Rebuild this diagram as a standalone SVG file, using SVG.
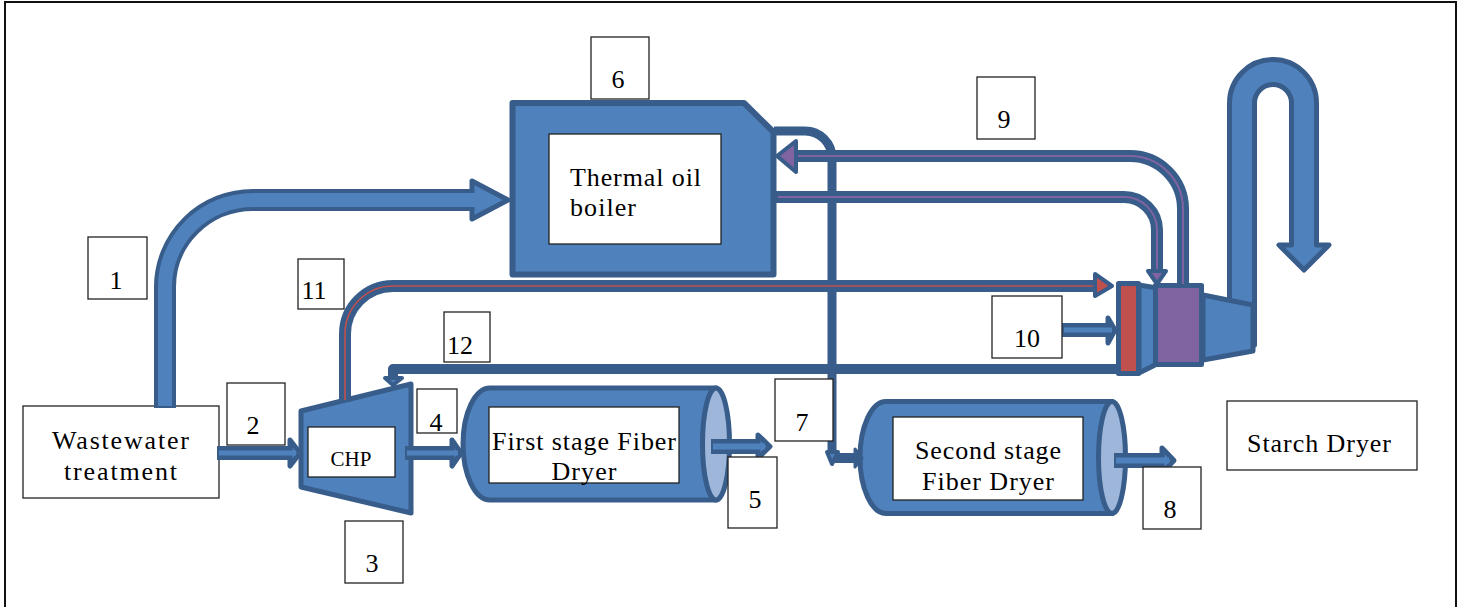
<svg xmlns="http://www.w3.org/2000/svg" width="1466" height="607" viewBox="0 0 1466 607">
<style>
text{font-family:"Liberation Serif","Times New Roman",serif;font-size:26px;fill:#000;text-anchor:middle}
.eq{fill:#4F81BD;stroke:#385D8A;stroke-width:5;stroke-linejoin:round}
.box{fill:#fff;stroke:#222;stroke-width:1.3}
.p{fill:none;stroke:#385D8A;stroke-linecap:butt;stroke-linejoin:round}
.in{fill:none;stroke:#4F81BD}
.pur{fill:none;stroke:#8064A2;stroke-width:2}
.red{fill:none;stroke:#C0504D;stroke-width:1.600}
.hb{fill:#4F81BD;stroke:#385D8A;stroke-width:5;stroke-linejoin:round}
.hp{fill:#8064A2;stroke:#385D8A;stroke-width:4;stroke-linejoin:round}
.hr{fill:#C0504D;stroke:#385D8A;stroke-width:4;stroke-linejoin:round}
.end{fill:#9DB6DA;stroke:#385D8A;stroke-width:5}
</style>
<rect x="5" y="2" width="1451" height="620" fill="#fff" stroke="#111" stroke-width="2"/>
<g id="stack"><path class="eq" d="M1229.500,305V103A43.500,43.500 0 0 1 1316.500,103V245H1329L1304,270L1279,245H1291.500V103A18.500,18.500 0 0 0 1254.500,103V345Z"/></g>
<g id="boiler"><polygon class="eq" style="stroke-width:6" points="512.500,103 744,103 773.500,132 773.500,274.500 512.500,274.500"/><rect class="box" x="549" y="134" width="172" height="110"/><text x="635.500" y="186" textLength="131">Thermal oil</text><text x="603" y="216" textLength="66">boiler</text></g>
<g id="wastewater"><rect class="box" x="23" y="406" width="196" height="92"/><text x="120.500" y="449" textLength="137">Wastewater</text><text x="120.500" y="480" textLength="113">treatment</text></g>
<g id="chp"><polygon class="eq" points="301,411 411,384 411,513 301,487"/><rect class="box" x="308" y="427" width="87" height="50"/><text x="351" y="466" style="font-size:21px">CHP</text></g>
<g id="dryer1"><path class="eq" d="M716,388H490A27,56 0 0 0 490,500H716Z"/><ellipse class="end" cx="716" cy="444" rx="13.500" ry="56"/><rect class="box" x="489" y="407" width="190" height="76"/><text x="584" y="450" textLength="184">First stage Fiber</text><text x="584" y="480" textLength="65">Dryer</text></g>
<g id="dryer2"><path class="eq" d="M1112,401.500H886A26,56 0 0 0 886,513.500H1112Z"/><ellipse class="end" cx="1112" cy="457.500" rx="13.500" ry="56"/><rect class="box" x="893" y="417" width="190" height="83"/><text x="988" y="459" textLength="146">Second stage</text><text x="988" y="490" textLength="132">Fiber Dryer</text></g>
<g id="starch"><rect class="box" x="1227" y="401" width="190" height="69"/><text x="1319" y="452" textLength="144">Starch Dryer</text></g>
<g id="burner"><polygon class="eq" points="1139,285 1157,288 1157,364 1139,373"/><polygon class="eq" points="1203,295 1253,305 1253,351 1203,360"/><rect x="1118.500" y="283.500" width="20" height="90" fill="#C0504D" stroke="#385D8A" stroke-width="5" stroke-linejoin="round"/><rect x="1155.500" y="285.500" width="46" height="79" fill="#8064A2" stroke="#385D8A" stroke-width="5" stroke-linejoin="round"/></g>
<g id="connectors">
<path class="p" stroke-width="22" d="M165,408V287A88,87 0 0 1 253,200H476"/><polygon class="hb" points="472,181 508,200 472,219"/><path class="in" stroke-width="14" d="M165,406V287A88,87 0 0 1 253,200H480"/>
<path class="p" stroke-width="9" d="M774,131H805A27,27 0 0 1 832,158V452"/>
<path class="p" stroke-width="12" d="M790,156H1130A53,53 0 0 1 1183,209V284"/><path class="pur" d="M790,156H1130A53,53 0 0 1 1183,209V284"/><polygon class="hp" points="796,141 777,156 796,172"/>
<path class="p" stroke-width="12" d="M774,197H1124A33,33 0 0 1 1157,230V272"/><path class="pur" d="M778,197H1124A33,33 0 0 1 1157,230V272"/><polygon class="hp" points="1148,271 1166,271 1157,284"/>
<path class="p" stroke-width="12" d="M345,402V334A48,48 0 0 1 393,286H1095"/><path class="red" d="M345,400V334A48,48 0 0 1 393,286H1095"/><polygon class="hr" points="1095,274 1112,286 1095,296"/>
<path class="p" stroke-width="10" d="M1118,369H393V378"/><polygon class="hb" style="stroke-width:4" points="385,378 402,378 393,385"/>
<path class="p" stroke-width="14" d="M217,453H290"/><polygon class="hb" points="290,440 300,453 290,466"/><path class="in" stroke-width="5" d="M219,453H296"/>
<path class="p" stroke-width="14" d="M405,453H452"/><polygon class="hb" points="452,440 461,453 452,466"/><path class="in" stroke-width="5" d="M407,453H458"/>
<path class="p" stroke-width="15" d="M711,446.500H758"/><polygon class="hb" points="758,435 770,446.500 758,458"/><path class="in" stroke-width="6" d="M713,446.500H765"/>
<path class="p" stroke-width="15" d="M1114,460.500H1162"/><polygon class="hb" points="1162,448 1174,460.500 1162,473"/><path class="in" stroke-width="6" d="M1116,460.500H1169"/>
<path class="p" stroke-width="14" d="M1062,330H1108"/><polygon class="hb" points="1108,318 1115,330 1108,343"/><path class="in" stroke-width="5" d="M1064,330H1112"/>
<polygon class="hb" style="stroke-width:4" points="827,452 838,452 832,464"/>
<path class="p" stroke-width="10" d="M835,458H855"/><polygon class="p" fill="#385D8A" stroke-width="3" style="fill:#385D8A" points="855,449 862,458 855,467"/>
</g>
<g id="label-1"><rect class="box" x="88" y="237" width="59" height="62"/><text x="116" y="289">1</text></g>
<g id="label-2"><rect class="box" x="227" y="383" width="58" height="62"/><text x="253" y="434">2</text></g>
<g id="label-3"><rect class="box" x="345" y="521" width="58" height="62"/><text x="372" y="572">3</text></g>
<g id="label-4"><rect class="box" x="417" y="389" width="40" height="44"/><text x="436" y="431">4</text></g>
<g id="label-5"><rect class="box" x="728" y="457" width="49" height="71"/><text x="755" y="508">5</text></g>
<g id="label-6"><rect class="box" x="591" y="37" width="58" height="62"/><text x="618" y="88">6</text></g>
<g id="label-7"><rect class="box" x="775" y="379" width="58" height="62"/><text x="802" y="431">7</text></g>
<g id="label-8"><rect class="box" x="1143" y="467" width="58" height="62"/><text x="1170" y="518">8</text></g>
<g id="label-9"><rect class="box" x="977" y="77" width="58" height="62"/><text x="1004" y="128">9</text></g>
<g id="label-10"><rect class="box" x="992" y="296" width="70" height="62"/><text x="1027" y="347">10</text></g>
<g id="label-11"><rect class="box" x="298" y="259" width="46" height="50"/><text x="314" y="299">11</text></g>
<g id="label-12"><rect class="box" x="444" y="312" width="46" height="50"/><text x="460" y="354">12</text></g>
</svg>
